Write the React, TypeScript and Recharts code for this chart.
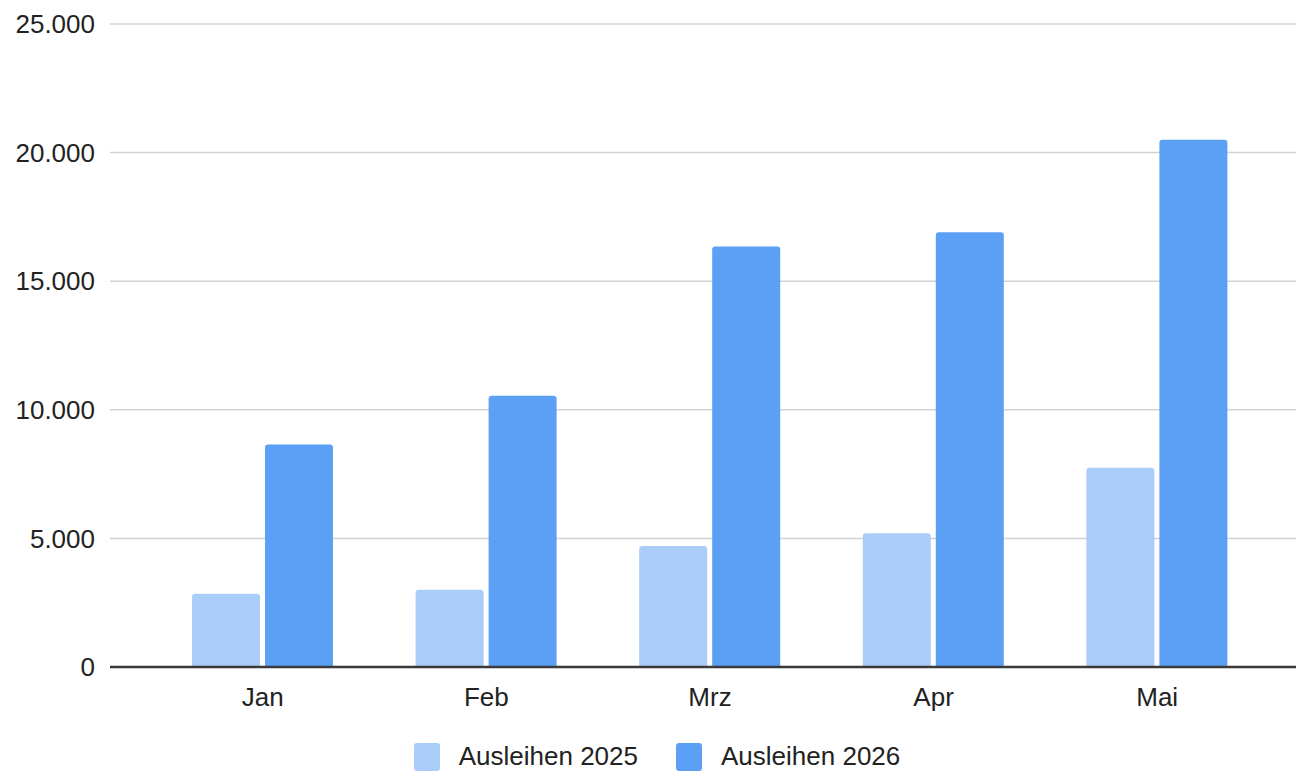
import React from 'react'
import { Bar, BarChart, CartesianGrid, Legend, XAxis, YAxis } from 'recharts'

const MONTHS = ['Jan', 'Feb', 'Mrz', 'Apr', 'Mai']
const AUSLEIHEN_2025 = [2850, 3000, 4700, 5200, 7750]
const AUSLEIHEN_2026 = [8650, 10550, 16350, 16900, 20500]
const Y_TICKS = [0, 5000, 10000, 15000, 20000, 25000]

const SERIES = [
    { key: 'a2025', name: 'Ausleihen 2025', color: '#a9cdf8' },
    { key: 'a2026', name: 'Ausleihen 2026', color: '#5ba0f4' },
]

const data = MONTHS.map((m, i) => ({
    month: m,
    a2025: AUSLEIHEN_2025[i],
    a2026: AUSLEIHEN_2026[i],
}))

const FONT = '"Liberation Sans", Arial, sans-serif'
const TEXT = '#222222'

const fmt = (v: number) => String(v).replace(/\B(?=(\d{3})+(?!\d))/g, '.')

function LegendContent() {
    return (
        <div
            style={{
                display: 'flex',
                justifyContent: 'center',
                alignItems: 'center',
                boxSizing: 'border-box',
                height: 45,
                paddingTop: 14,
                marginLeft: 18,
                fontFamily: FONT,
                fontSize: 26,
                color: TEXT,
            }}
        >
            {SERIES.map((s, i) => (
                <div
                    key={s.key}
                    style={{
                        display: 'flex',
                        alignItems: 'center',
                        marginLeft: i === 0 ? 0 : 38,
                    }}
                >
                    <span
                        style={{
                            display: 'inline-block',
                            width: 26,
                            height: 28,
                            borderRadius: 3,
                            background: s.color,
                            marginRight: 19,
                        }}
                    />
                    <span>{s.name}</span>
                </div>
            ))}
        </div>
    )
}

export default function App() {
    return (
        <div style={{ position: 'absolute', left: 0, top: 0, background: '#fff' }}>
            <BarChart
                width={1296}
                height={772}
                data={data}
                margin={{ top: 24, right: 0, left: 0, bottom: 0 }}
                barGap={5}
                barSize={68}
            >
                <CartesianGrid
                    vertical={false}
                    stroke="#d2d2d2"
                    strokeWidth={1.5}
                />
                <XAxis
                    dataKey="month"
                    height={60}
                    padding={{ left: 41, right: 27 }}
                    tickLine={false}
                    tickMargin={15}
                    axisLine={{ stroke: '#3a3a3a', strokeWidth: 2.5 }}
                    tick={{ fontSize: 26, fill: TEXT, fontFamily: FONT }}
                />
                <YAxis
                    width={110}
                    domain={[0, 25000]}
                    ticks={Y_TICKS}
                    tickFormatter={fmt}
                    tickLine={false}
                    axisLine={false}
                    tickMargin={9}
                    tick={{ fontSize: 26, fill: TEXT, fontFamily: FONT }}
                />
                <Legend
                    verticalAlign="bottom"
                    height={45}
                    content={<LegendContent />}
                />
                {SERIES.map((s) => (
                    <Bar
                        key={s.key}
                        dataKey={s.key}
                        name={s.name}
                        fill={s.color}
                        radius={[3, 3, 0, 0]}
                        isAnimationActive={false}
                    />
                ))}
            </BarChart>
        </div>
    )
}
